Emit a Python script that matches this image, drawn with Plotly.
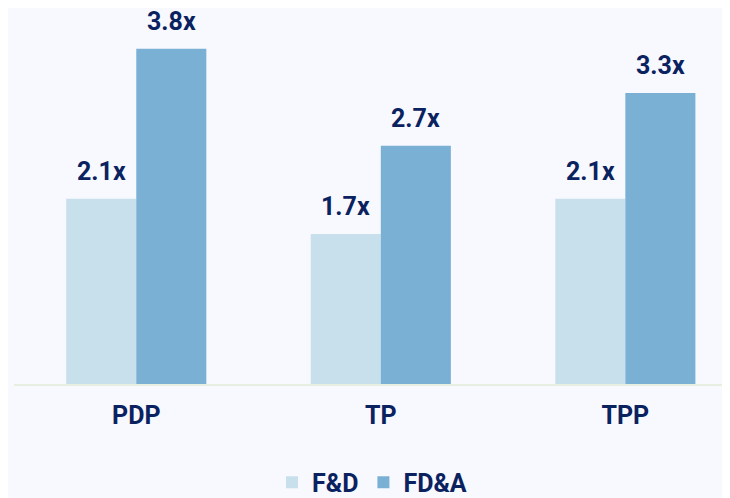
import plotly.graph_objects as go

categories = ["PDP", "TP", "TPP"]
fd_values = [2.1, 1.7, 2.1]
fda_values = [3.8, 2.7, 3.3]
fd_labels = ["2.1x", "1.7x", "2.1x"]
fda_labels = ["3.8x", "2.7x", "3.3x"]

FONT = "Roboto, Liberation Sans, Arial, sans-serif"
NAVY = "#0b2260"
BG = "#f8f9fe"

fig = go.Figure()
fig.add_trace(go.Bar(name="<b>F&D</b>", x=categories, y=fd_values, marker_color="#c8dfec",
                     marker_line_width=0, textposition="none", hoverinfo="skip"))
fig.add_trace(go.Bar(name="<b>FD&A</b>", x=categories, y=fda_values, marker_color="#7bb0d5",
                     marker_line_width=0, textposition="none", hoverinfo="skip"))

for i, c in enumerate(categories):
    for val, lab, sh in ((fd_values[i], fd_labels[i], -35), (fda_values[i], fda_labels[i], 35)):
        fig.add_annotation(x=c, y=val, text="<b>%s</b>" % lab, showarrow=False,
                           xshift=sh, yshift=11, yanchor="bottom",
                           font=dict(family=FONT, size=25, color=NAVY))

fig.update_layout(
    width=722, height=490,
    margin=dict(l=6, r=0, t=0, b=114, autoexpand=False),
    paper_bgcolor=BG, plot_bgcolor=BG,
    barmode="group", bargap=0.427, bargroupgap=0,
    showlegend=True,
    legend=dict(orientation="h", x=0.5, xanchor="center", y=-0.262, yanchor="middle",
                font=dict(family=FONT, size=25, color=NAVY), itemsizing="constant",
                itemwidth=30, traceorder="normal"),
    xaxis=dict(range=[-0.5, 2.428], showline=True, linecolor="#e6efe0", linewidth=2,
               ticks="", ticklabelstandoff=8, tickfont=dict(family=FONT, size=25, color=NAVY),
               tickvals=categories, ticktext=["<b>%s</b>" % c for c in categories]),
    yaxis=dict(range=[0, 4.263], visible=False, showgrid=False),
)
fig.write_html("out.html")
